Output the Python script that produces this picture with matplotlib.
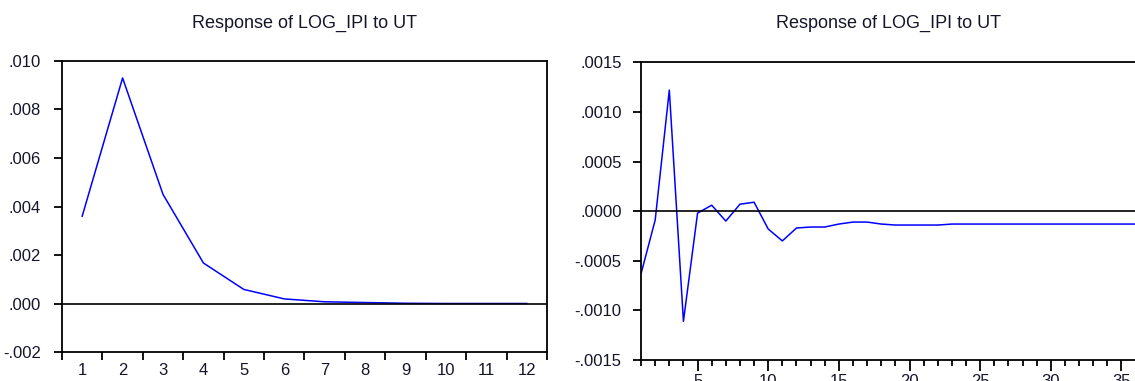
import numpy as np
import matplotlib
matplotlib.use('Agg')
import matplotlib.pyplot as plt
from matplotlib.ticker import FuncFormatter

plt.rcParams['font.family'] = ['Liberation Sans', 'DejaVu Sans']

title = 'Response of LOG_IPI to UT'
txt_color = '#15152a'

# left panel: 12 periods
periods_l = [1, 2, 3, 4, 5, 6, 7, 8, 9, 10, 11, 12]
resp_l = [0.0036, 0.0093, 0.0045, 0.00167, 0.00058, 0.00019, 0.00007, 0.00004,
          0.00001, 0.0, 0.0, 0.0]
yticks_l = [-0.002, 0.000, 0.002, 0.004, 0.006, 0.008, 0.010]

# right panel: 36 periods
periods_r = list(range(1, 37))
resp_r = [-0.00063, -0.00009, 0.00122, -0.00111, -0.00002, 0.00006, -0.00010, 0.00007,
          0.00009, -0.00018, -0.00030, -0.00017, -0.00016, -0.00016, -0.00013, -0.00011,
          -0.00011, -0.00013, -0.00014, -0.00014, -0.00014, -0.00014, -0.00013, -0.00013,
          -0.00013, -0.00013, -0.00013, -0.00013, -0.00013, -0.00013, -0.00013, -0.00013,
          -0.00013, -0.00013, -0.00013, -0.00013]
yticks_r = [-0.0015, -0.0010, -0.0005, 0.0000, 0.0005, 0.0010, 0.0015]
xticks_r = [5, 10, 15, 20, 25, 30, 35]


def fmt(ndig):
    def f(v, pos):
        s = f'{round(v, ndig) + 0.0:.{ndig}f}'
        return s.replace('0.', '.', 1)
    return FuncFormatter(f)


fig = plt.figure(figsize=(11.35, 3.81), dpi=100)

# ---- left
ax1 = fig.add_axes([0.0546, 0.0761, 0.4273, 0.7638])
ax1.plot(periods_l, resp_l, color='#0000ff', lw=1.1, zorder=2)
ax1.axhline(0, color='black', lw=1.2, zorder=3)
ax1.set_xlim(0.5, 12.5)
ax1.set_ylim(-0.002, 0.010)
ax1.set_yticks(yticks_l)
ax1.yaxis.set_major_formatter(fmt(3))
ax1.set_xticks(periods_l)
ax1.set_xticks(np.arange(0.5, 13, 1), minor=True)
ax1.tick_params(axis='x', which='major', length=0, pad=8, labelsize=12, labelcolor=txt_color)
ax1.tick_params(axis='x', which='minor', length=6, width=1.3, direction='out')
ax1.tick_params(axis='y', length=6, width=1.3, direction='out', pad=9, labelsize=12,
                labelcolor=txt_color)
ax1.set_title(title, fontsize=13, color=txt_color, pad=24)

# ---- right (cut at the image edge)
ax2 = fig.add_axes([0.5648, 0.0551, 0.4357, 0.7814])
ax2.plot(periods_r, resp_r, color='#0000ff', lw=1.1, zorder=2)
ax2.axhline(0, color='black', lw=1.2, zorder=3)
ax2.set_xlim(1, 36)
ax2.set_ylim(-0.0015, 0.0015)
ax2.set_yticks(yticks_r)
ax2.yaxis.set_major_formatter(fmt(4))
ax2.set_xticks(xticks_r)
ax2.set_xticks(periods_r, minor=True)
ax2.tick_params(axis='x', which='major', length=8, width=1.3, pad=2, labelsize=12,
                labelcolor=txt_color)
ax2.tick_params(axis='x', which='minor', length=4, width=1.3)
ax2.tick_params(axis='y', length=6, width=1.3, direction='out', pad=8, labelsize=12,
                labelcolor=txt_color)
ax2.set_title(title, fontsize=13, color=txt_color, pad=25)

for ax in (ax1, ax2):
    for s in ax.spines.values():
        s.set_linewidth(1.3)

fig.savefig('out.png', dpi=100)
